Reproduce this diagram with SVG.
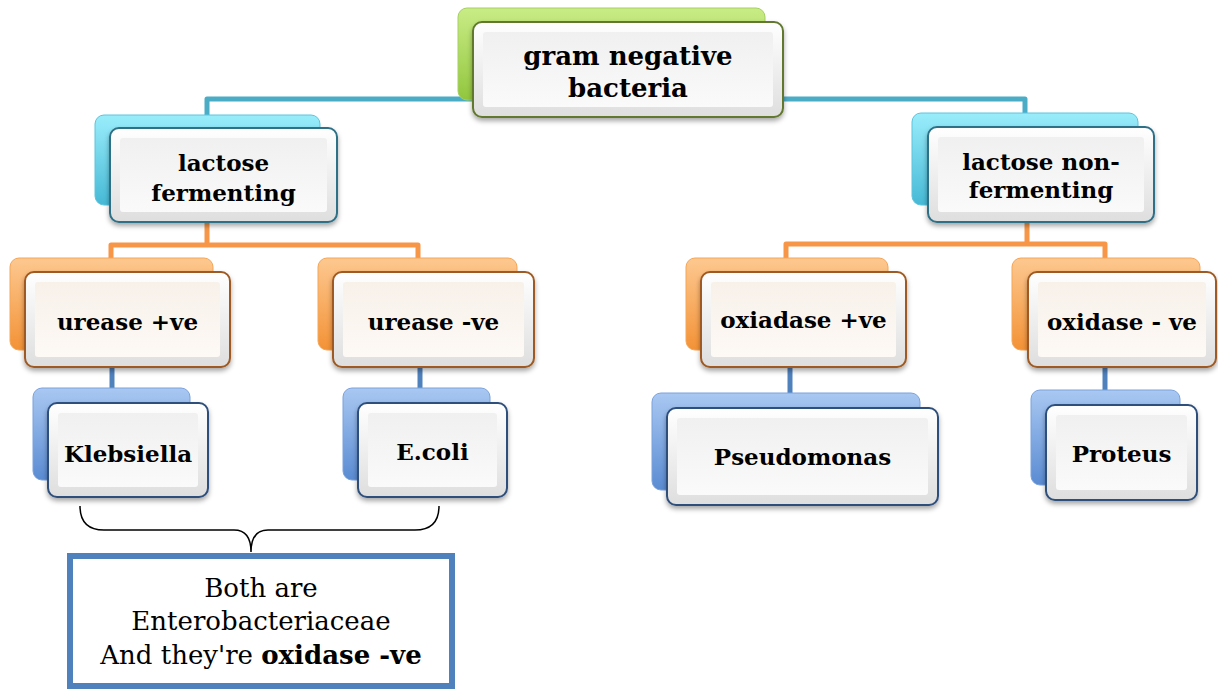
<svg xmlns="http://www.w3.org/2000/svg" width="1218" height="690" viewBox="0 0 1218 690">
<defs>
<linearGradient id="gGreen" x1="0" y1="0" x2="0" y2="1"><stop offset="0" stop-color="#c9ec86"/><stop offset="1" stop-color="#92c63e"/></linearGradient>
<linearGradient id="gCyan" x1="0" y1="0" x2="0" y2="1"><stop offset="0" stop-color="#9aedfb"/><stop offset="1" stop-color="#46b9d6"/></linearGradient>
<linearGradient id="gOrange" x1="0" y1="0" x2="0" y2="1"><stop offset="0" stop-color="#fdc890"/><stop offset="1" stop-color="#f39236"/></linearGradient>
<linearGradient id="gBlue" x1="0" y1="0" x2="0" y2="1"><stop offset="0" stop-color="#a9c8f2"/><stop offset="1" stop-color="#5a8bd2"/></linearGradient>
<linearGradient id="gFront" x1="0" y1="0" x2="0" y2="1"><stop offset="0" stop-color="#ffffff"/><stop offset="1" stop-color="#dedede"/></linearGradient>
<linearGradient id="gInner" x1="0" y1="0" x2="0" y2="1"><stop offset="0" stop-color="#f0f0f0"/><stop offset="1" stop-color="#fafafa"/></linearGradient>
<linearGradient id="gInnerO" x1="0" y1="0" x2="0" y2="1"><stop offset="0" stop-color="#f8f1ea"/><stop offset="1" stop-color="#fdf9f5"/></linearGradient>
<filter id="sh" x="-10%" y="-10%" width="125%" height="135%"><feDropShadow dx="0" dy="3" stdDeviation="2.5" flood-color="#000" flood-opacity="0.35"/></filter>
</defs>
<style>
.t{font-family:"DejaVu Serif","Liberation Serif",serif;font-weight:bold;font-size:23px;fill:#000;text-anchor:middle}
.tr{font-size:26px}
.back{rx:9px;ry:9px}
.bgreen{fill:url(#gGreen);stroke:#a5cf63;stroke-width:1}
.bcyan{fill:url(#gCyan);stroke:#5cc4dc;stroke-width:1}
.borange{fill:url(#gOrange);stroke:#f5a557;stroke-width:1}
.bblue{fill:url(#gBlue);stroke:#7aa2dc;stroke-width:1}
.front{fill:url(#gFront);stroke-width:2;rx:9px;ry:9px;filter:url(#sh)}
.inner{fill:url(#gInner);rx:3px;ry:3px}
.innerO{fill:url(#gInnerO);rx:3px;ry:3px}
.sgreen{stroke:#62782f}
.scyan{stroke:#2f6f86}
.sorange{stroke:#9e5a22}
.sblue{stroke:#2f4f7c}
.c{fill:none;stroke-width:5;stroke-linejoin:round}
.note{font-family:"DejaVu Serif","Liberation Serif",serif;font-size:26px;fill:#000;text-anchor:middle}
</style>

<g id="connectors">
<path class="c" stroke="#4bacc6" d="M207,117 V99 H1025 V117"/>
<path class="c" stroke="#f79646" d="M207,222 V245 M111,260 V245 H418 V260"/>
<path class="c" stroke="#f79646" d="M1027,222 V244 M786,260 V244 H1105 V260"/>
<path class="c" stroke="#4f81bd" d="M112,367 V392 M420,367 V392 M790,367 V396 M1105,367 V393"/>
<path fill="none" stroke="#000" stroke-width="1.5" d="M80,506 Q80,530 104,530 L234,530 Q251,530 251,552 Q251,530 268,530 L415,530 Q439,530 439,506"/>
</g>

<g id="root">
<rect class="back bgreen" x="458" y="8" width="307" height="92"/>
<rect class="front sgreen" x="473" y="22" width="310" height="95"/>
<rect class="inner" x="483" y="32" width="290" height="75"/>
<text class="t tr" x="628" y="65">gram negative</text>
<text class="t tr" x="628" y="97">bacteria</text>
</g>

<g id="lactose-fermenting">
<rect class="back bcyan" x="95" y="115" width="225" height="90"/>
<rect class="front scyan" x="110" y="128" width="227" height="94"/>
<rect class="inner" x="120" y="138" width="207" height="74"/>
<text class="t" x="223.5" y="171">lactose</text>
<text class="t" x="223.5" y="201">fermenting</text>
</g>

<g id="lactose-non-fermenting">
<rect class="back bcyan" x="912" y="113" width="226" height="92"/>
<rect class="front scyan" x="928" y="127" width="226" height="95"/>
<rect class="inner" x="938" y="137" width="206" height="75"/>
<text class="t" x="1041" y="170">lactose non-</text>
<text class="t" x="1041" y="198">fermenting</text>
</g>

<g id="urease-pos">
<rect class="back borange" x="10" y="258" width="203" height="92"/>
<rect class="front sorange" x="25" y="272" width="205" height="95"/>
<rect class="innerO" x="35" y="282" width="185" height="75"/>
<text class="t" x="127.5" y="330">urease +ve</text>
</g>

<g id="urease-neg">
<rect class="back borange" x="318" y="258" width="199" height="92"/>
<rect class="front sorange" x="333" y="272" width="201" height="95"/>
<rect class="innerO" x="343" y="282" width="181" height="75"/>
<text class="t" x="433.5" y="330">urease -ve</text>
</g>

<g id="oxidase-pos">
<rect class="back borange" x="686" y="258" width="202" height="92"/>
<rect class="front sorange" x="701" y="272" width="205" height="95"/>
<rect class="innerO" x="711" y="282" width="185" height="75"/>
<text class="t" x="803.5" y="328">oxiadase +ve</text>
</g>

<g id="oxidase-neg">
<rect class="back borange" x="1012" y="258" width="188" height="92"/>
<rect class="front sorange" x="1028" y="272" width="188" height="95"/>
<rect class="innerO" x="1038" y="282" width="168" height="75"/>
<text class="t" x="1122" y="330">oxidase - ve</text>
</g>

<g id="klebsiella">
<rect class="back bblue" x="33" y="388" width="157" height="92"/>
<rect class="front sblue" x="48" y="403" width="160" height="94"/>
<rect class="inner" x="58" y="413" width="140" height="74"/>
<text class="t" x="128" y="462">Klebsiella</text>
</g>

<g id="ecoli">
<rect class="back bblue" x="343" y="388" width="147" height="92"/>
<rect class="front sblue" x="358" y="403" width="149" height="94"/>
<rect class="inner" x="368" y="413" width="129" height="74"/>
<text class="t" x="432.5" y="460">E.coli</text>
</g>

<g id="pseudomonas">
<rect class="back bblue" x="652" y="393" width="268" height="97"/>
<rect class="front sblue" x="667" y="408" width="271" height="97"/>
<rect class="inner" x="677" y="418" width="251" height="77"/>
<text class="t" x="802.5" y="465">Pseudomonas</text>
</g>

<g id="proteus">
<rect class="back bblue" x="1031" y="390" width="149" height="95"/>
<rect class="front sblue" x="1046" y="405" width="151" height="95"/>
<rect class="inner" x="1056" y="415" width="131" height="75"/>
<text class="t" x="1121.5" y="462">Proteus</text>
</g>

<g id="note">
<rect x="70" y="556" width="382" height="130" fill="#fff" stroke="#4f81bd" stroke-width="6"/>
<text class="note" x="261" y="597">Both are</text>
<text class="note" x="261" y="630">Enterobacteriaceae</text>
<text class="note" x="261" y="664">And they're <tspan font-weight="bold">oxidase -ve</tspan></text>
</g>
</svg>
